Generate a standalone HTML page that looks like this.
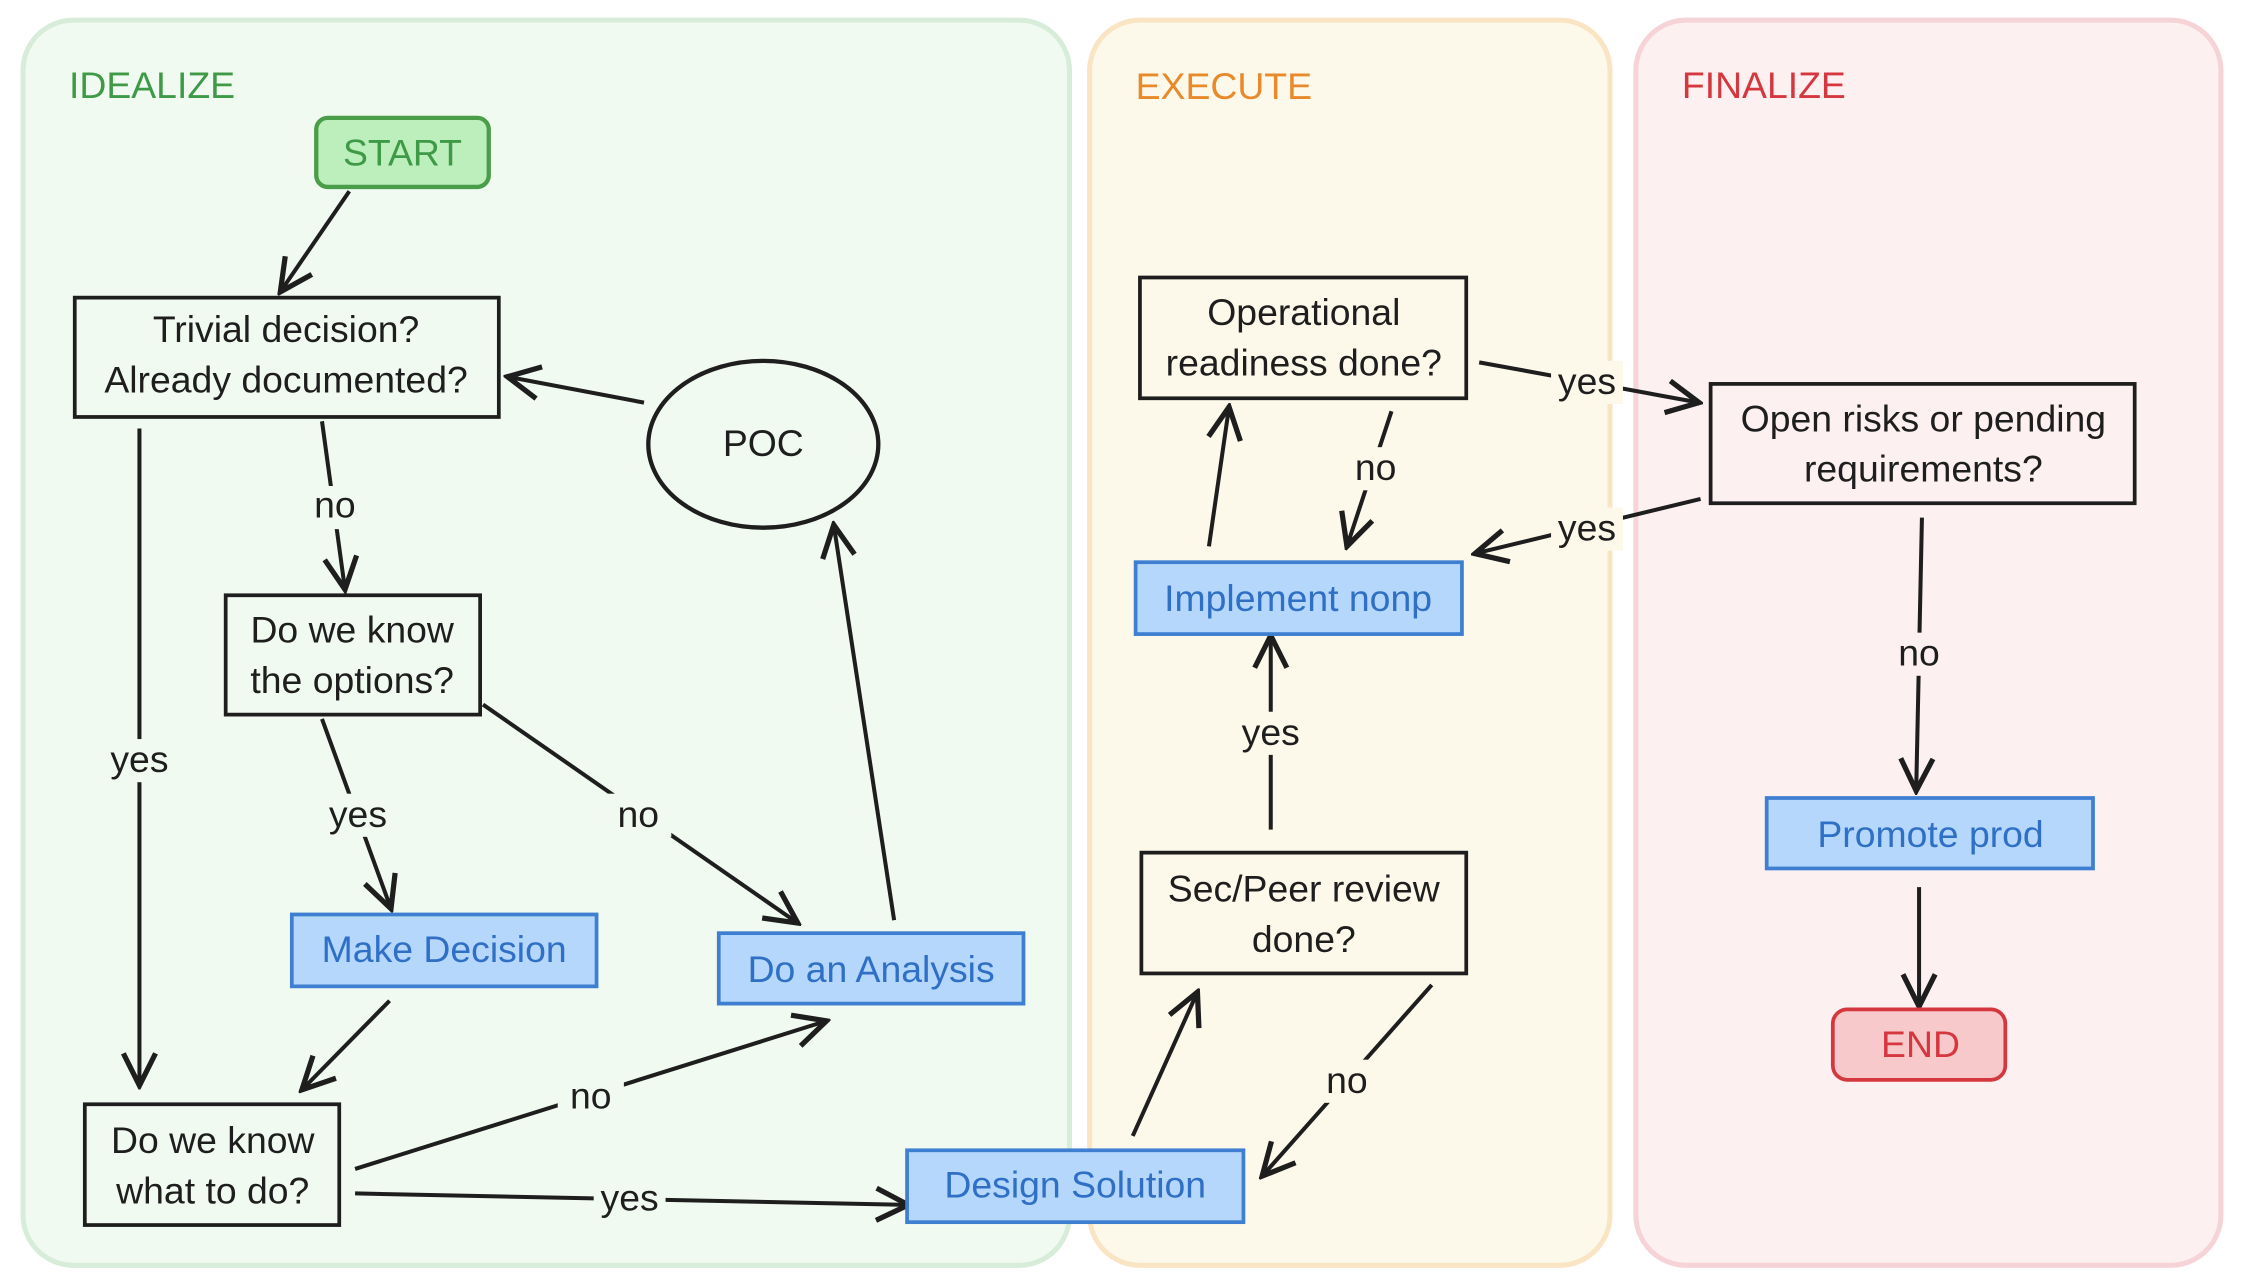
<!DOCTYPE html>
<html><head><meta charset="utf-8"><style>
html,body{margin:0;padding:0;background:#fff;width:2254px;height:1284px;overflow:hidden}
svg{display:block}
text{font-family:"Liberation Sans",sans-serif;font-size:26px;fill:#1e1e1e;text-anchor:middle}
.t{font-size:26px;text-anchor:start}
.b{fill:#2f6fc5}
</style></head><body>
<svg width="2254" height="1284" viewBox="0 0 1568 893" preserveAspectRatio="none">
<defs>
<marker id="a" viewBox="0 0 20 20" refX="18" refY="10" markerWidth="28" markerHeight="28" markerUnits="userSpaceOnUse" orient="auto">
<path d="M2,2 L18,10 L2,18" fill="none" stroke="#1e1e1e" stroke-width="2.6"/>
</marker>
</defs>
<rect x="16" y="14" width="728" height="866" rx="35" fill="#f1faf1" stroke="#d7ecd9" stroke-width="3.5"/>
<rect x="758" y="14" width="362" height="866" rx="35" fill="#fdf9ea" stroke="#f9e4c4" stroke-width="3.5"/>
<rect x="1138" y="14" width="407" height="866" rx="35" fill="#fdf0f1" stroke="#f6d3d7" stroke-width="3.5"/>
<text class="t" x="48" y="68" style="fill:#3f9a48">IDEALIZE</text>
<text class="t" x="790" y="69" style="fill:#e8892a">EXECUTE</text>
<text class="t" x="1170" y="68" style="fill:#d5373f">FINALIZE</text>

<g stroke="#1e1e1e" stroke-width="2.8" fill="none" marker-end="url(#a)">
<path d="M243,133 L195,203"/>
<path d="M448,280 L353,262"/>
<path d="M224,293 L240,410"/>
<path d="M97,298 L97,755"/>
<path d="M224,500 L272,632"/>
<path d="M336,490 L555,642"/>
<path d="M622,640 L580,365"/>
<path d="M271,696 L210,758"/>
<path d="M247,813 L575,710"/>
<path d="M247,830 L632,838"/>
<path d="M788,790 L833,690"/>
<path d="M996,685 L878,818"/>
<path d="M884,577 L884,442"/>
<path d="M841,380 L855,283"/>
<path d="M968,286 L937,380"/>
<path d="M1029,252 L1182,280"/>
<path d="M1183,347 L1026,385"/>
<path d="M1337,360 L1333,550"/>
<path d="M1335,617 L1335,700"/>
</g>
<g>
<rect x="210" y="338" width="46" height="30" fill="#f1faf1"/><text x="233" y="360">no</text>
<rect x="72" y="514" width="50" height="30" fill="#f1faf1"/><text x="97" y="537">yes</text>
<rect x="224" y="552" width="50" height="30" fill="#f1faf1"/><text x="249" y="575">yes</text>
<rect x="421" y="552" width="46" height="30" fill="#f1faf1"/><text x="444" y="575">no</text>
<rect x="388" y="748" width="46" height="30" fill="#f1faf1"/><text x="411" y="771">no</text>
<rect x="413" y="819" width="50" height="30" fill="#f1faf1"/><text x="438" y="842">yes</text>
<rect x="914" y="737" width="46" height="30" fill="#fdf9ea"/><text x="937" y="760">no</text>
<rect x="859" y="495" width="50" height="30" fill="#fdf9ea"/><text x="884" y="518">yes</text>
<rect x="934" y="311" width="46" height="30" fill="#fdf9ea"/><text x="957" y="334">no</text>
<rect x="1079" y="251" width="50" height="30" fill="#fdf9ea"/><text x="1104" y="274">yes</text>
<rect x="1079" y="353" width="50" height="30" fill="#fdf9ea"/><text x="1104" y="376">yes</text>
<rect x="1312" y="440" width="46" height="30" fill="#fdf0f1"/><text x="1335" y="463">no</text>
</g>

<rect x="220" y="82" width="120" height="48" rx="8" fill="#bdefbd" stroke="#4a9e4a" stroke-width="3"/>
<text x="280" y="115" style="fill:#3f9a48">START</text>
<rect x="52" y="207" width="295" height="83" fill="#f1faf1" stroke="#1e1e1e" stroke-width="2.6"/>
<text x="199" y="238">Trivial decision?</text><text x="199" y="273">Already documented?</text>
<ellipse cx="531" cy="309" rx="80" ry="58" fill="#f1faf1" stroke="#1e1e1e" stroke-width="3"/>
<text x="531" y="317">POC</text>
<rect x="157" y="414" width="177" height="83" fill="#f1faf1" stroke="#1e1e1e" stroke-width="2.6"/>
<text x="245" y="447">Do we know</text><text x="245" y="482">the options?</text>
<rect x="203" y="636" width="212" height="50" fill="#b4d7fb" stroke="#3f7fd1" stroke-width="2.6"/>
<text class="b" x="309" y="669">Make Decision</text>
<rect x="500" y="649" width="212" height="49" fill="#b4d7fb" stroke="#3f7fd1" stroke-width="2.6"/>
<text class="b" x="606" y="683">Do an Analysis</text>
<rect x="59" y="768" width="177" height="84" fill="#f1faf1" stroke="#1e1e1e" stroke-width="2.6"/>
<text x="148" y="802">Do we know</text><text x="148" y="837">what to do?</text>
<rect x="631" y="800" width="234" height="50" fill="#b4d7fb" stroke="#3f7fd1" stroke-width="2.6"/>
<text class="b" x="748" y="833">Design Solution</text>
<rect x="793" y="193" width="227" height="84" fill="#fdf9ea" stroke="#1e1e1e" stroke-width="2.6"/>
<text x="907" y="226">Operational</text><text x="907" y="261">readiness done?</text>
<rect x="790" y="391" width="227" height="50" fill="#b4d7fb" stroke="#3f7fd1" stroke-width="2.6"/>
<text class="b" x="903" y="425">Implement nonp</text>
<rect x="794" y="593" width="226" height="84" fill="#fdf9ea" stroke="#1e1e1e" stroke-width="2.6"/>
<text x="907" y="627">Sec/Peer review</text><text x="907" y="662">done?</text>
<rect x="1190" y="267" width="295" height="83" fill="#fdf0f1" stroke="#1e1e1e" stroke-width="2.6"/>
<text x="1338" y="300">Open risks or pending</text><text x="1338" y="335">requirements?</text>
<rect x="1229" y="555" width="227" height="49" fill="#b4d7fb" stroke="#3f7fd1" stroke-width="2.6"/>
<text class="b" x="1343" y="589">Promote prod</text>
<rect x="1275" y="702" width="120" height="49" rx="10" fill="#f7c9cb" stroke="#d5373f" stroke-width="2.6"/>
<text x="1336" y="735" style="fill:#d5373f">END</text>
</svg>
</body></html>
